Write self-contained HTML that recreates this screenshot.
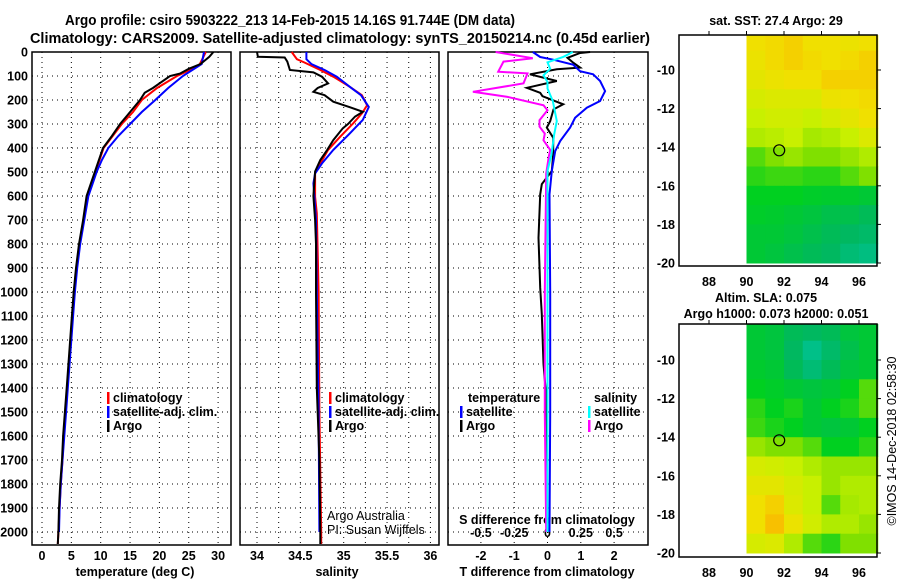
<!DOCTYPE html>
<html><head><meta charset="utf-8"><style>
body{margin:0;background:#fff}
svg{display:block;font-family:"Liberation Sans",sans-serif}
.b{font-weight:bold;font-size:12.5px}
.n{font-size:12.5px}
</style></head><body>
<svg id="c" width="900" height="580" viewBox="0 0 900 580">
<text class="b" x="65" y="25" textLength="450" lengthAdjust="spacingAndGlyphs" style="font-size:14.5px">Argo profile: csiro 5903222_213 14-Feb-2015 14.16S 91.744E (DM data)</text>
<text class="b" x="30" y="43" textLength="620" lengthAdjust="spacingAndGlyphs" style="font-size:14.5px">Climatology: CARS2009. Satellite-adjusted climatology: synTS_20150214.nc (0.45d earlier)</text>
</svg>
<script>
// ---- depth-profile data ----
const tArgoD=[0,20,50,70,90,100,150,170,200,250,300,350,400,500,600,700,800,900,1000,1100,1400,1500,1600,1700,1800,1900,2000,2050];
const tArgo=[29.2,28.5,27,25,23.5,21.8,18.9,17.5,16.7,15,13.3,11.9,10.4,9,7.6,7,6.3,5.8,5.4,5.1,4.2,3.9,3.6,3.4,3.1,2.9,2.8,2.7];
const tClimD=[0,50,60,100,150,200,250,300,400,500,600,700,800,900,1000,1100,1400,1500,1600,1700,1800,1900,2000,2050];
const tClim=[27.9,26.9,26.5,23,19.6,17,15.5,13.6,10.5,9.1,7.7,7.1,6.4,5.9,5.5,5.2,4.3,4,3.7,3.5,3.2,3,2.8,2.7];
const tSatD=[0,50,100,150,200,250,300,350,400,450,500,600,700,800,900,1000,1100,1400,1500,1600,1700,1800,1900,2000];
const tSat=[27.6,27.2,24,21.5,19.3,17,15,13,11.3,10.2,9.3,7.9,7.2,6.5,6,5.6,5.3,4.4,4.1,3.8,3.5,3.2,3,2.9];
const sArgoD=[0,20,23,40,75,85,103,131,150,166,180,207,230,249,269,300,318,367,408,450,498,600,700,800,1000,1400,1700,2000,2050];
const sArgo=[34.0,34.01,34.32,34.35,34.38,34.65,34.75,34.82,34.70,34.65,34.78,34.88,35.07,35.22,35.13,35.05,34.99,34.88,34.81,34.73,34.67,34.65,34.67,34.68,34.68,34.69,34.72,34.73,34.73];
const sClimD=[0,30,44,75,103,145,180,222,256,297,353,408,464,506,603,672,1000,1500,2000,2050];
const sClim=[34.40,34.46,34.55,34.73,34.88,35.07,35.21,35.27,35.21,35.11,34.96,34.82,34.73,34.67,34.67,34.69,34.71,34.72,34.74,34.74];
const sSatD=[0,30,51,75,103,145,180,229,283,339,408,464,506,547,700,1000,1500,2000];
const sSat=[34.57,34.57,34.63,34.78,34.92,35.07,35.2,35.29,35.22,35.07,34.88,34.75,34.67,34.65,34.68,34.69,34.71,34.72];
const dTsatD=[0,21,32,53,80,93,121,163,204,232,274,315,371,413,496,593,1000,1500,2000];
const dTsat=[-0.44,-0.22,0.17,0.77,0.98,1.37,1.58,1.73,1.58,1.18,0.83,0.68,0.38,0.23,0.13,0.06,0.08,0.08,0.06];
const dTargD=[0,4,24,44,65,72,93,121,149,170,184,218,239,288,315,357,427,496,551,593,774,982,1093,1300,1400,2000];
const dTarg=[1.28,0.98,0.6,0.77,0.98,0.28,-0.53,0.28,-0.62,-0.22,-0.15,0.47,0.18,0.08,-0.02,0.17,0.17,0.13,-0.17,-0.22,-0.27,-0.22,-0.17,-0.12,-0.06,0];
const dSargD=[0,26,40,82,89,131,166,187,222,243,284,311,340,368,408,436,506,1000,1500,2000];
const dSarg=[-0.39,-0.11,-0.33,-0.37,-0.15,-0.18,-0.56,-0.3,-0.03,0,-0.06,-0.06,-0.02,-0.03,0.02,0.01,-0.01,-0.02,-0.02,-0.01];
const dSsatD=[0,20,43,70,97,125,152,204,288,343,426,496,634,1000,1500,2000];
const dSsat=[0.19,0.12,0,0.02,-0.03,0,0,0.04,0.07,0.05,0.03,0,0,0,0,0];
const depthTicks=[0,100,200,300,400,500,600,700,800,900,1000,1100,1200,1300,1400,1500,1600,1700,1800,1900,2000];
const tTicks=[0,5,10,15,20,25,30];
const sTicks=[34,34.5,35,35.5,36];
const sGrid=[34,34.25,34.5,34.75,35,35.25,35.5,35.75,36];
const dtTicks=[-2,-1,0,1,2];
const dsTicks=[-0.5,-0.25,0,0.25,0.5];
const dsLabels=["-0.5","-0.25","0","0.25","0.5"];
// ---- map data (rows lat -8.5..-19.5, cols lon 90.5..96.5), normalized colour value ----
const sstGrid=[
[0.8,0.82,0.85,0.8,0.8,0.78,0.8],[0.78,0.82,0.85,0.82,0.8,0.82,0.85],[0.75,0.78,0.8,0.8,0.85,0.85,0.85],
[0.7,0.72,0.72,0.72,0.78,0.8,0.82],[0.65,0.68,0.68,0.65,0.7,0.75,0.8],[0.6,0.62,0.65,0.58,0.6,0.65,0.72],
[0.45,0.5,0.55,0.5,0.5,0.55,0.6],[0.4,0.42,0.42,0.4,0.4,0.45,0.5],[0.35,0.35,0.35,0.33,0.32,0.32,0.3],
[0.33,0.32,0.3,0.28,0.25,0.25,0.22],[0.3,0.3,0.28,0.25,0.22,0.2,0.18],[0.3,0.28,0.25,0.22,0.2,0.15,0.12]];
const slaGrid=[
[0.3,0.28,0.22,0.2,0.22,0.28,0.3],[0.3,0.28,0.2,0.1,0.18,0.25,0.3],[0.32,0.3,0.22,0.15,0.22,0.28,0.3],
[0.35,0.33,0.3,0.28,0.3,0.35,0.45],[0.4,0.35,0.38,0.3,0.35,0.38,0.45],[0.42,0.38,0.35,0.3,0.28,0.3,0.35],
[0.55,0.5,0.5,0.45,0.35,0.35,0.4],[0.7,0.68,0.65,0.6,0.55,0.55,0.55],[0.75,0.75,0.7,0.65,0.55,0.6,0.6],
[0.8,0.85,0.72,0.65,0.45,0.58,0.6],[0.8,0.9,0.78,0.68,0.6,0.6,0.55],[0.7,0.72,0.6,0.45,0.4,0.5,0.5]];
const lonTicks=[88,90,92,94,96];
const latTicks=[-10,-12,-14,-16,-18,-20];
const argoLon=91.744, argoLat=-14.16;

const NS='http://www.w3.org/2000/svg', svg=document.getElementById('c');
function el(t,a,p){const e=document.createElementNS(NS,t);for(const k in a)e.setAttribute(k,a[k]);(p||svg).appendChild(e);return e;}
function txt(x,y,s,anc,cls,extra){const e=el('text',Object.assign({x:x,y:y,'text-anchor':anc||'middle','class':cls||'b'},extra||{}));e.textContent=s;return e;}
const yD=d=>52+0.24*d;
const xT=v=>42+5.87*v, xS=v=>257+86.7*(v-34), xDT=v=>547.5+33.3*v, xDS=v=>547.5+133.2*v;
const panels=[[32,231],[240,439],[448,648]];
panels.forEach((p,i)=>{
  const g=el('g',{});
  
  
  let xs=i==0?tTicks.map(xT):i==1?sGrid.map(xS):dtTicks.map(xDT);
  xs.forEach(x=>{const l=el('line',{x1:x,x2:x,y1:52,y2:545,stroke:'#000','stroke-dasharray':'1,4'},g);});
  depthTicks.forEach(d=>{const l=el('line',{x1:p[0],x2:p[1],y1:yD(d),y2:yD(d),stroke:'#000','stroke-dasharray':'1,4'},g);});
  const r=el('rect',{x:p[0],y:52,width:p[1]-p[0],height:493,fill:'none',stroke:'#000','stroke-width':1.5},g);
  
});
depthTicks.forEach(d=>{const t=txt(28,yD(d)+4.5,String(d),'end');});
tTicks.forEach(v=>{const t=txt(xT(v),560,String(v));});
sTicks.forEach(v=>{const t=txt(xS(v),560,String(v));});
dtTicks.forEach(v=>{const t=txt(xDT(v),560,String(v));});
dsTicks.forEach((v,i)=>{const t=txt(xDS(v),537,dsLabels[i]);});
let t;
t=txt(135,576,'temperature (deg C)');
t=txt(337,576,'salinity');
t=txt(547,576,'T difference from climatology');
t=txt(547,524,'S difference from climatology');
function line(ds,vs,fx,col,name){
  const pts=ds.map((d,i)=>fx(vs[i]).toFixed(1)+','+yD(d).toFixed(1)).join(' ');
  const p=el('polyline',{points:pts,fill:'none',stroke:col,'stroke-width':2});
  
}
line(tClimD,tClim,xT,'#ff0000','temperature-climatology-line');
line(tSatD,tSat,xT,'#0000ff','temperature-satellite-line');
line(tArgoD,tArgo,xT,'#000','temperature-argo-line');
line(sClimD,sClim,xS,'#ff0000','salinity-climatology-line');
line(sSatD,sSat,xS,'#0000ff','salinity-satellite-line');
line(sArgoD,sArgo,xS,'#000','salinity-argo-line');
line(dTargD,dTarg,xDT,'#000','t-diff-argo-line');
line(dSargD,dSarg,xDS,'#ff00ff','s-diff-argo-line');
line(dTsatD,dTsat,xDT,'#0000ff','t-diff-satellite-line');
line(dSsatD,dSsat,xDS,'#00ffff','s-diff-satellite-line');
function leg(x,y,col,s,name){
  const r=el('rect',{x:x,y:y-10,width:2.5,height:12,fill:col});
  const t=txt(x+6,y,s,'start');
}
leg(107,402,'#ff0000','climatology','legend-climatology-1');
leg(107,416,'#0000ff','satellite-adj. clim.','legend-satellite-1');
leg(107,430,'#000','Argo','legend-argo-1');
leg(329,402,'#ff0000','climatology','legend-climatology-2');
leg(329,416,'#0000ff','satellite-adj. clim.','legend-satellite-2');
leg(329,430,'#000','Argo','legend-argo-2');
t=txt(468,402,'temperature','start');
t=txt(594,402,'salinity','start');
leg(460,416,'#0000ff','satellite','legend-t-satellite');
leg(460,430,'#000','Argo','legend-t-argo');
leg(588,416,'#00ffff','satellite','legend-s-satellite');
leg(588,430,'#ff00ff','Argo','legend-s-argo');
t=txt(327,520,'Argo Australia','start','n');
t=txt(327,534,'PI: Susan Wijffels','start','n');
const stops=[[0,[0,200,176]],[0.2,[0,184,96]],[0.35,[0,208,32]],[0.5,[128,224,0]],[0.65,[200,240,0]],[0.8,[240,224,0]],[1,[255,160,0]]];
function cmap(v){for(let i=1;i<stops.length;i++){if(v<=stops[i][0]){const a=stops[i-1],b=stops[i],f=(v-a[0])/(b[0]-a[0]);return 'rgb('+a[1].map((c,k)=>Math.round(c+(b[1][k]-c)*f)).join(',')+')';}}return 'rgb(255,160,0)';}
function map(top,bot,lat10y,lat20y,grid,name){
  const L=679,R=877;
  const xL=lon=>709+(lon-88)*18.75;
  const yL=lat=>lat10y+(-10-lat)*(lat20y-lat10y)/10;
  const g=el('g',{});
  grid.forEach((row,ri)=>row.forEach((v,ci)=>{
    const la=-8-ri, lo=90+ci;
    const y0=Math.max(top,yL(la)), y1=Math.min(bot,yL(la-1));
    const c=el('rect',{x:xL(lo),y:y0,width:xL(lo+1)-xL(lo)+0.5,height:y1-y0+0.5,fill:cmap(v)},g);
    
  }));
  const fr=el('rect',{x:L,y:top,width:R-L,height:bot-top,fill:'none',stroke:'#000','stroke-width':1.5},g);
  
  lonTicks.forEach(lo=>{el('line',{x1:xL(lo),x2:xL(lo),y1:top,y2:top-4,stroke:'#000'},g);
    const t=txt(xL(lo),bot+20,String(lo));});
  latTicks.forEach(la=>{el('line',{x1:R,x2:R+4,y1:yL(la),y2:yL(la),stroke:'#000'},g);
    const t=txt(675,yL(la)+4.5,String(la),'end');});
  const m=el('circle',{cx:xL(argoLon),cy:yL(argoLat),r:5.5,fill:'none',stroke:'#000','stroke-width':1.2},g);
  
}
map(35,266,70,263,sstGrid,'sst-map');
map(324,557,360,553,slaGrid,'sla-map');
t=txt(776,25,'sat. SST: 27.4 Argo: 29');
t=txt(766,302,'Altim. SLA: 0.075');
t=txt(776,318,'Argo h1000: 0.073 h2000: 0.051');
t=txt(0,0,'©IMOS 14-Dec-2018 02:58:30','middle','n',{transform:'translate(896,441) rotate(-90)'});

</script>
</body></html>
